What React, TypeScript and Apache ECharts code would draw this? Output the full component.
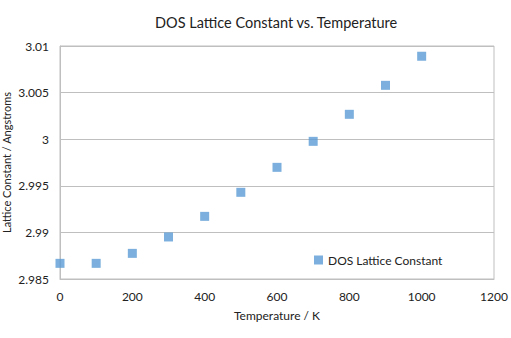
import React, { useEffect, useRef } from "react";
import * as echarts from "echarts";

const temperatures = [0, 100, 200, 300, 400, 500, 600, 700, 800, 900, 1000];
const latticeConstants = [2.98668, 2.98668, 2.98775, 2.98951, 2.99172, 2.9943, 2.99698, 2.99977, 3.00267, 3.00578, 3.0089];
const seriesName = "DOS Lattice Constant";

export default function App() {
  const ref = useRef<HTMLDivElement>(null);
  useEffect(() => {
    if (!ref.current) return;
    const chart = echarts.init(ref.current, null, { renderer: "svg" });
    const font = "Lato, 'Open Sans', sans-serif";
    chart.setOption({
      animation: false,
      backgroundColor: "#ffffff",
      textStyle: { fontFamily: font },
      title: {
        text: "DOS Lattice Constant vs. Temperature",
        left: 150,
        top: 10,
        textStyle: { fontSize: 14.5, fontWeight: "normal", color: "#222", fontFamily: font },
      },
      legend: {
        left: 309,
        top: 249,
        itemWidth: 9,
        itemHeight: 9,
        itemGap: 4,
        textStyle: { fontSize: 12, color: "#222", fontFamily: font },
        data: [{ name: seriesName, icon: "rect" }],
      },
      grid: {
        left: 60,
        right: 17,
        top: 46,
        bottom: 59,
        show: true,
        borderColor: "#bfbfbf",
        borderWidth: 1,
        containLabel: false,
        outerBoundsMode: "none",
      },
      xAxis: {
        type: "value",
        min: 0,
        max: 1200,
        interval: 200,
        name: "Temperature / K",
        nameLocation: "middle",
        nameGap: 30,
        nameMoveOverlap: false,
        nameTextStyle: { fontSize: 12, color: "#222" },
        axisLine: { show: true, lineStyle: { color: "#bfbfbf" } },
        axisTick: { show: false },
        splitLine: { show: false },
        axisLabel: { fontSize: 12, color: "#222", margin: 11, formatter: (v: number) => String(v) },
      },
      yAxis: {
        type: "value",
        min: 2.985,
        max: 3.01,
        interval: 0.005,
        name: "Lattice Constant / Angstroms",
        nameLocation: "middle",
        nameGap: 48,
        nameMoveOverlap: false,
        nameTextStyle: { fontSize: 11, color: "#222" },
        axisLine: { show: true, lineStyle: { color: "#bfbfbf" } },
        axisTick: { show: false },
        splitLine: { show: true, lineStyle: { color: "#bfbfbf" } },
        axisLabel: {
          fontSize: 12,
          color: "#222",
          margin: 11,
          formatter: (v: number) => String(parseFloat(v.toFixed(4))),
        },
      },
      series: [
        {
          name: seriesName,
          type: "scatter",
          symbol: "rect",
          symbolSize: 9,
          itemStyle: { color: "#5b9bd5" },
          data: temperatures.map((t, i) => [t, latticeConstants[i]]),
        },
      ],
    });
    return () => chart.dispose();
  }, []);
  return <div ref={ref} style={{ width: 511, height: 338, position: "absolute", left: 0, top: 0 }} />;
}
